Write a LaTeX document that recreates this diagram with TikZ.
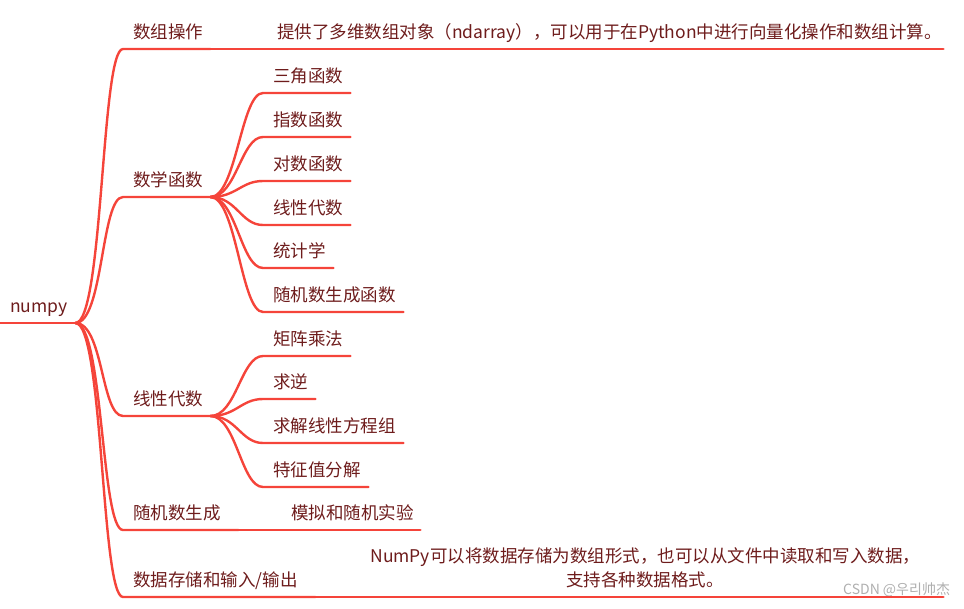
\documentclass[tikz,border=0pt]{standalone}
\usepackage{fontspec}
\setmainfont{Noto Sans CJK SC}
\usepackage{xcolor}
\definecolor{LineRed}{RGB}{245, 68, 58}
\definecolor{TextMaroon}{RGB}{110, 28, 28}
\definecolor{MarkGray}{RGB}{175, 175, 175}
\tikzset{
  topic/.style={anchor=south west, inner xsep=0pt, inner ysep=6pt, text height=14pt, text depth=4pt,
    text width=#1, align=left, text=TextMaroon, execute at begin node={\hspace*{10pt}}},
  note/.style={anchor=south west, inner xsep=0pt, inner ysep=6pt, text height=14pt, text depth=28pt,
    text width=#1, align=center, text=TextMaroon},
  branch/.style={draw=LineRed, line width=2.4pt, line cap=round}
}

\begin{document}
\begin{tikzpicture}[x=1pt, y=-1pt, every node/.style={font=\fontsize{17.5}{24}\selectfont}]
      \useasboundingbox (0,0) rectangle (964,608);
      % Root
      \node[topic=75pt] (numpy) at (0,323) {numpy};
      % First level
      \node[topic=87pt] (arrays) at (123,49) {数组操作};
      \node[topic=87pt] (mathfn) at (123,197) {数学函数};
      \node[topic=87pt] (linalg) at (123,416) {线性代数};
      \node[topic=115pt] (random) at (123,530) {随机数生成};
      \node[topic=192pt] (fileio) at (123,597) {数据存储和输入/输出};
      % Details
      \node[topic=676pt] (ndarray) at (267,49) {提供了多维数组对象（ndarray），可以用于在Python中进行向量化操作和数组计算。};
      \node[topic=87pt] (trig) at (263,93) {三角函数};
      \node[topic=87pt] (expfn) at (263,137) {指数函数};
      \node[topic=87pt] (logfn) at (263,181) {对数函数};
      \node[topic=87pt] (linfn) at (263,225) {线性代数};
      \node[topic=70pt] (stats) at (263,268) {统计学};
      \node[topic=140pt] (randfn) at (263,312) {随机数生成函数};
      \node[topic=87pt] (matmul) at (263,356) {矩阵乘法};
      \node[topic=52pt] (inverse) at (263,399) {求逆};
      \node[topic=140pt] (solve) at (263,443) {求解线性方程组};
      \node[topic=105pt] (eigen) at (263,487) {特征值分解};
      \node[topic=139pt] (simul) at (281,530) {模拟和随机实验};
      \node[note=596pt] (formats) at (347,597) {NumPy可以将数据存储为数组形式，也可以从文件中读取和写入数据，\\支持各种数据格式。};
      \node[anchor=west, inner sep=0pt, text=MarkGray, font=\fontsize{14}{16}\selectfont] (mark) at (843,590) {CSDN @우리帅杰};
      % Root branches
      \draw[branch] (numpy.south west) -- (numpy.south east);
      \draw[branch] (numpy.south east) .. controls +(28,0) and +(-22,0) .. (arrays.south west) -- (arrays.south east);
      \draw[branch] (numpy.south east) .. controls +(28,0) and +(-22,0) .. (mathfn.south west) -- (mathfn.south east);
      \draw[branch] (numpy.south east) .. controls +(28,0) and +(-22,0) .. (linalg.south west) -- (linalg.south east);
      \draw[branch] (numpy.south east) .. controls +(28,0) and +(-22,0) .. (random.south west) -- (random.south east);
      \draw[branch] (numpy.south east) .. controls +(28,0) and +(-22,0) .. (fileio.south west) -- (fileio.south east);
      % Sub branches
      \draw[branch] (arrays.south east) -- (ndarray.south west) -- (ndarray.south east);
      \draw[branch] (mathfn.south east) .. controls +(26,0) and +(-22,0) .. (trig.south west) -- (trig.south east);
      \draw[branch] (mathfn.south east) .. controls +(26,0) and +(-22,0) .. (expfn.south west) -- (expfn.south east);
      \draw[branch] (mathfn.south east) .. controls +(26,0) and +(-22,0) .. (logfn.south west) -- (logfn.south east);
      \draw[branch] (mathfn.south east) .. controls +(26,0) and +(-22,0) .. (linfn.south west) -- (linfn.south east);
      \draw[branch] (mathfn.south east) .. controls +(26,0) and +(-22,0) .. (stats.south west) -- (stats.south east);
      \draw[branch] (mathfn.south east) .. controls +(26,0) and +(-22,0) .. (randfn.south west) -- (randfn.south east);
      \draw[branch] (linalg.south east) .. controls +(26,0) and +(-22,0) .. (matmul.south west) -- (matmul.south east);
      \draw[branch] (linalg.south east) .. controls +(26,0) and +(-22,0) .. (inverse.south west) -- (inverse.south east);
      \draw[branch] (linalg.south east) .. controls +(26,0) and +(-22,0) .. (solve.south west) -- (solve.south east);
      \draw[branch] (linalg.south east) .. controls +(26,0) and +(-22,0) .. (eigen.south west) -- (eigen.south east);
      \draw[branch] (random.south east) -- (simul.south west) -- (simul.south east);
      \draw[branch] (fileio.south east) -- (formats.south west) -- (formats.south east);
    \end{tikzpicture}
\end{document}
